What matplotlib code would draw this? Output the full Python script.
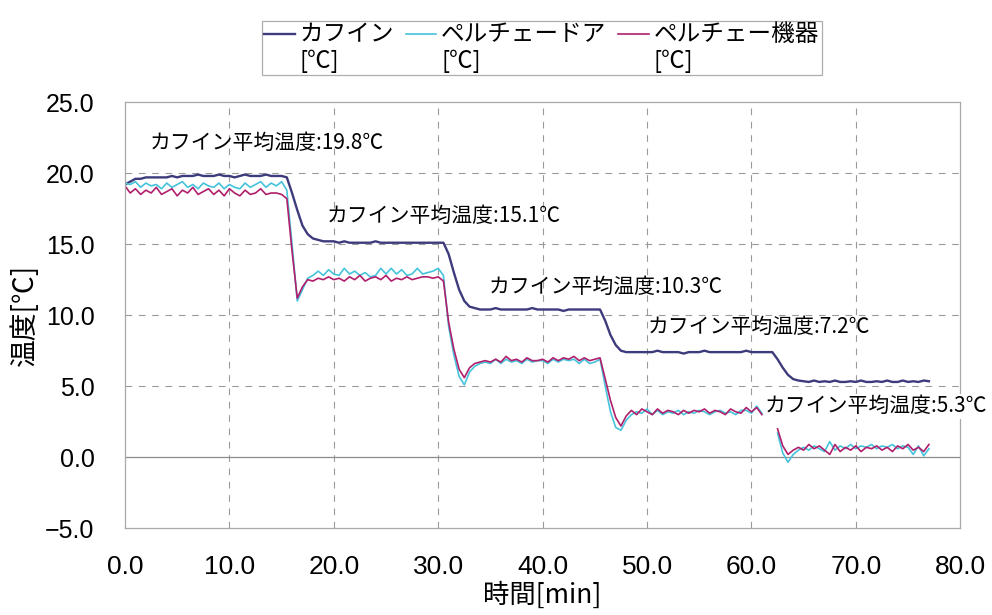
import numpy as np
import matplotlib
matplotlib.use("Agg")
import matplotlib.pyplot as plt
from matplotlib.legend_handler import HandlerLine2D

# time axis [min], sampled every 0.5 min
t = np.arange(0, 77.01, 0.5)

# caffeine temperature
caffeine = [
    19.2, 19.4, 19.6, 19.6, 19.7, 19.7, 19.7, 19.7, 19.7, 19.8, 19.7, 19.8, 19.8, 19.8, 19.9, 19.8,
    19.8, 19.8, 19.9, 19.8, 19.8, 19.7, 19.8, 19.9, 19.8, 19.8, 19.8, 19.9, 19.8, 19.8, 19.8, 19.7,
    18.6, 17.4, 16.3, 15.7, 15.4, 15.3, 15.2, 15.2, 15.2, 15.1, 15.2, 15.1, 15.1, 15.1, 15.1, 15.1,
    15.2, 15.1, 15.1, 15.1, 15.1, 15.1, 15.1, 15.1, 15.1, 15.1, 15.1, 15.1, 15.1, 15.1,
    14.3, 13.0, 11.8, 11.0, 10.6, 10.5, 10.4, 10.4, 10.4, 10.5, 10.4, 10.4, 10.4, 10.4, 10.4, 10.4,
    10.5, 10.4, 10.4, 10.4, 10.4, 10.4, 10.3, 10.4, 10.4, 10.4, 10.4, 10.4, 10.4, 10.4,
    9.6, 8.6, 7.9, 7.5, 7.4, 7.4, 7.4, 7.4, 7.4, 7.4, 7.5, 7.4, 7.4, 7.4, 7.4, 7.3,
    7.4, 7.4, 7.4, 7.5, 7.4, 7.4, 7.4, 7.4, 7.4, 7.4, 7.4, 7.5, 7.4, 7.4, 7.4, 7.4, 7.4,
    6.9, 6.3, 5.8, 5.5, 5.4, 5.35, 5.3, 5.4, 5.3, 5.35, 5.3, 5.4, 5.3, 5.3, 5.35, 5.3,
    5.4, 5.3, 5.3, 5.35, 5.3, 5.4, 5.3, 5.3, 5.4, 5.3, 5.35, 5.3, 5.4, 5.35,
]

# peltier door temperature
door = [
    19.3, 19.2, 19.4, 19.0, 19.3, 19.1, 19.2, 18.9, 19.3, 19.0, 19.2, 19.4, 19.0, 19.2, 18.9, 19.3,
    19.1, 19.0, 19.3, 18.9, 19.2, 19.0, 18.9, 19.3, 19.0, 19.2, 19.4, 19.0, 19.3, 19.1, 19.4, 18.8,
    15.0, 11.0, 11.8, 12.6, 12.8, 13.1, 12.8, 13.2, 12.9, 12.8, 13.3, 12.9, 13.1, 12.8, 13.0, 12.7,
    12.8, 13.3, 12.9, 13.3, 12.9, 13.2, 12.8, 12.9, 13.3, 12.9, 13.0, 13.1, 13.3, 12.8,
    9.2, 7.2, 5.7, 5.1, 6.0, 6.4, 6.6, 6.7, 6.6, 6.9, 6.6, 6.9, 6.7, 6.8, 6.6, 6.9,
    6.7, 6.8, 6.8, 6.6, 6.9, 6.7, 6.9, 6.8, 6.9, 6.6, 6.9, 6.6, 6.7, 6.9,
    5.0, 3.2, 2.1, 1.9, 2.6, 3.0, 3.2, 3.1, 3.4, 3.0, 3.3, 3.0, 3.2, 3.1, 3.3, 3.0,
    3.2, 3.1, 3.3, 3.2, 3.0, 3.2, 3.3, 3.1, 3.2, 3.0, 3.3, 3.3, 3.1, 3.6, 3.1,
    np.nan, np.nan, 1.7, 0.3, -0.35, 0.2, 0.5, 0.7, 0.5, 0.8, 0.6, 0.4, 1.1, 0.5, 0.8, 0.6,
    0.9, 0.6, 0.8, 0.7, 0.9, 0.6, 0.8, 0.7, 0.9, 0.6, 0.8, 0.7, 0.2, 0.8, 0.1, 0.6,
]

# peltier device temperature
device = [
    19.1, 18.6, 18.9, 18.5, 18.8, 18.6, 19.0, 18.5, 18.7, 18.9, 18.4, 18.8, 18.6, 19.0, 18.5, 18.7,
    18.9, 18.5, 18.8, 18.4, 18.9, 18.6, 18.4, 18.8, 18.5, 18.6, 18.9, 18.5, 18.6, 18.6, 18.5, 18.2,
    14.5, 11.2, 12.0, 12.5, 12.4, 12.6, 12.5, 12.7, 12.5, 12.6, 12.4, 12.7, 12.5, 12.8, 12.4, 12.6,
    12.7, 12.5, 12.8, 12.4, 12.6, 12.5, 12.7, 12.5, 12.6, 12.7, 12.7, 12.6, 12.7, 12.4,
    9.5, 7.6, 6.2, 5.6, 6.3, 6.6, 6.7, 6.8, 6.7, 6.9, 6.7, 7.1, 6.8, 6.9, 6.7, 7.0,
    6.8, 6.8, 6.9, 6.7, 7.0, 6.8, 7.0, 6.9, 7.1, 6.8, 7.0, 6.8, 6.9, 7.0,
    5.5, 4.0, 2.8, 2.2, 2.9, 3.3, 3.0, 3.4, 3.2, 3.0, 3.4, 3.1, 3.3, 3.2, 3.0, 3.3,
    3.1, 3.3, 3.2, 3.4, 3.1, 3.3, 3.2, 3.0, 3.4, 3.2, 3.1, 3.5, 3.2, 3.5, 3.0,
    np.nan, np.nan, 2.0, 0.8, 0.2, 0.5, 0.7, 0.5, 0.9, 0.6, 0.8, 0.5, 0.2, 0.9, 0.4, 0.7,
    0.5, 0.8, 0.4, 0.7, 0.6, 0.8, 0.5, 0.7, 0.4, 0.8, 0.6, 0.9, 0.5, 0.7, 0.4, 0.9,
]

series_labels = ["カフイン\n[℃]", "ペルチェードア\n[℃]", "ペルチェー機器\n[℃]"]
series_colors = ["#3d3b7c", "#45c3dc", "#b01f6c"]

# average temperature notes
note_x = [2.4, 19.3, 34.8, 50.1, 61.3]
note_y = [22.1, 17.0, 12.0, 9.15, 3.6]
note_text = [
    "カフイン平均温度:19.8℃",
    "カフイン平均温度:15.1℃",
    "カフイン平均温度:10.3℃",
    "カフイン平均温度:7.2℃",
    "カフイン平均温度:5.3℃",
]

xticks = [0, 10, 20, 30, 40, 50, 60, 70, 80]
yticks = [-5, 0, 5, 10, 15, 20, 25]

plt.rcParams['font.family'] = ["Noto Sans CJK JP", "DejaVu Sans"]


class TopLineHandler(HandlerLine2D):
    # put the legend line next to the first text row, not the middle
    def create_artists(self, legend, orig_handle, xdescent, ydescent,
                       width, height, fontsize, trans):
        arts = super().create_artists(legend, orig_handle, xdescent, ydescent,
                                      width, height, fontsize, trans)
        for a in arts:
            if hasattr(a, 'get_ydata'):
                a.set_ydata(np.asarray(a.get_ydata()) + 0.62 * fontsize)
        return arts


def fmt(v):
    return "{:.1f}".format(v).replace("-", "\u2212")


def main():
    fig = plt.figure(figsize=(9.92, 6.15), dpi=100)
    ax = fig.add_axes([0.126, 0.141, 0.842, 0.693])

    lines = []
    for y, c, lab, lw in zip([caffeine, door, device], series_colors, series_labels, [1.7, 1.2, 1.2]):
        ln, = ax.plot(t, y, color=c, lw=lw, label=lab)
        lines.append(ln)

    ax.set_xlim(0, 80)
    ax.set_ylim(-5, 25)
    ax.set_xticks(xticks)
    ax.set_yticks(yticks)
    ax.set_xticklabels([fmt(v) for v in xticks], fontfamily="Liberation Sans", fontsize=19)
    ax.set_yticklabels([fmt(v) for v in yticks], fontfamily="Liberation Sans", fontsize=18)
    ax.tick_params(axis='both', length=0)
    ax.tick_params(axis='x', pad=19)
    ax.tick_params(axis='y', pad=22)

    # grid
    for xv in xticks[1:-1]:
        ax.axvline(xv, color='#9a9a9a', lw=0.8, ls=(0, (6, 6)), zorder=0)
    for yv in yticks[1:-1]:
        if yv == 0:
            ax.axhline(yv, color='#8c8c8c', lw=0.9, zorder=0)
        else:
            ax.axhline(yv, color='#9a9a9a', lw=0.8, ls=(0, (6, 6)), zorder=0)
    for s in ax.spines.values():
        s.set_color('#a8a8a8')
        s.set_linewidth(0.9)

    for x, y, s in zip(note_x, note_y, note_text):
        kw = {}
        if s.endswith("5.3℃"):
            kw['bbox'] = dict(facecolor='white', edgecolor='none', pad=1)
        ax.text(x, y, s, fontsize=15, ha='left', va='center', clip_on=False, **kw)

    ax.set_xlabel("時間[min]", fontsize=19, labelpad=2)
    ax.set_ylabel("温度[℃]", fontsize=20)
    ax.yaxis.set_label_coords(-0.102, 0.5)

    leg = fig.legend(handles=lines, loc='center', bbox_to_anchor=(0.546, 0.922), ncol=3,
                     fontsize=17, frameon=True, fancybox=False, handlelength=1.3,
                     handletextpad=0.2, columnspacing=0.5, borderpad=0.1,
                     labelspacing=0.1,
                     handler_map={l: TopLineHandler() for l in lines})
    leg.get_frame().set_edgecolor('#999999')
    leg.get_frame().set_linewidth(0.9)

    fig.savefig('out.png', dpi=100)


if (__name__ == "__main__"):
    main()
